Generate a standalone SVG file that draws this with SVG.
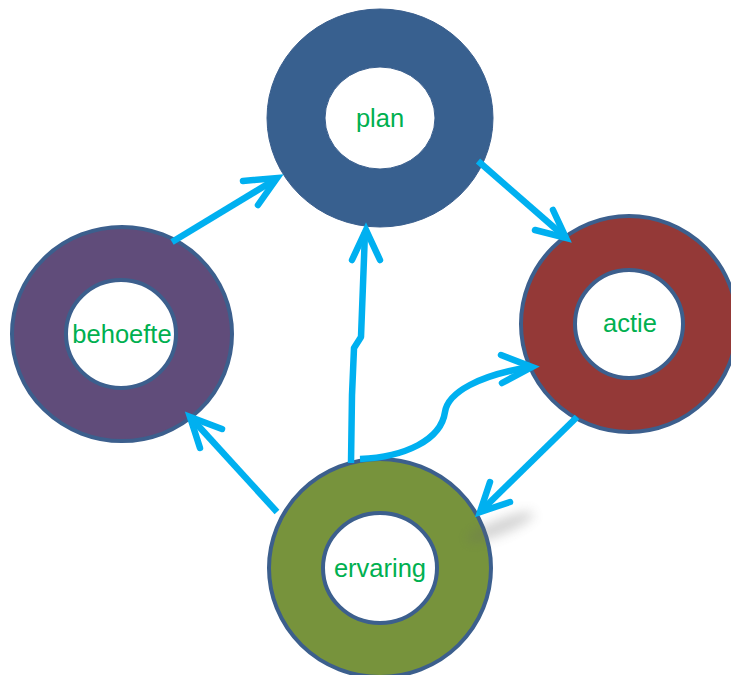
<svg xmlns="http://www.w3.org/2000/svg" width="731" height="675" viewBox="0 0 731 675">
<defs>
<style>
.ring{fill-rule:evenodd;stroke:#3c5f8d;stroke-width:4}
.lbl{font-family:"Liberation Sans",Arial,sans-serif;font-size:25.5px;fill:#00b050;text-anchor:middle}
.con{fill:none;stroke:#00b0f0;stroke-width:6.5;stroke-linecap:butt;stroke-linejoin:round}
.head{fill:none;stroke:#00b0f0;stroke-width:6.5;stroke-linecap:round;stroke-linejoin:miter;stroke-miterlimit:10}
</style>
<filter id="blur" x="-50%" y="-200%" width="200%" height="500%"><feGaussianBlur stdDeviation="6"/></filter>
</defs>
<rect width="731" height="675" fill="#ffffff"/>
<g id="plan">
<path class="ring" style="fill:#38608f;stroke:#3a5f8e;stroke-width:1" d="M267,118 a113,109 0 1,0 226,0 a113,109 0 1,0 -226,0 Z M325,118 a55,51 0 1,0 110,0 a55,51 0 1,0 -110,0 Z"/>
<text class="lbl" x="380" y="127">plan</text>
</g>
<g id="behoefte">
<path class="ring" style="fill:#604c7a" d="M12,334 a110,107 0 1,0 220,0 a110,107 0 1,0 -220,0 Z M66,334 a55,54 0 1,0 110,0 a55,54 0 1,0 -110,0 Z"/>
<text class="lbl" x="122" y="343">behoefte</text>
</g>
<g id="actie">
<path class="ring" style="fill:#943937" d="M521,324 a108,108 0 1,0 216,0 a108,108 0 1,0 -216,0 Z M575,324 a54,54 0 1,0 108,0 a54,54 0 1,0 -108,0 Z"/>
<text class="lbl" x="630" y="332">actie</text>
</g>
<g id="ervaring">
<path class="ring" style="fill:#77933c" d="M269,568 a111,109 0 1,0 222,0 a111,109 0 1,0 -222,0 Z M323,568 a57,55 0 1,0 114,0 a57,55 0 1,0 -114,0 Z"/>
<text class="lbl" x="380" y="577">ervaring</text>
</g>
<ellipse cx="500" cy="527" rx="36" ry="7" transform="rotate(-22 500 527)" fill="#666" opacity="0.3" filter="url(#blur)"/>
<g id="connectors">
<path class="con" d="M172,242 L276,179"/>
<path class="head" d="M243,181 L277,178 L258,205"/>
<path class="con" d="M478,161 L565,237"/>
<path class="head" d="M553,210 L566,238 L535,230"/>
<path class="con" d="M351,463 L352,395 L354,348 L361,337 L365,232"/>
<path class="head" d="M352,260 L366,230 L380,260"/>
<path class="con" d="M360,459 C405,457 441,440 445,412 C448,392 480,375 530,367"/>
<path class="head" d="M501,355 L532,367 L502,383"/>
<path class="con" d="M577,417 L483,509"/>
<path class="head" d="M490,482 L480,512 L510,502"/>
<path class="con" d="M277,512 L193,420"/>
<path class="head" d="M200,448 L190,417 L222,429"/>
</g>
</svg>
